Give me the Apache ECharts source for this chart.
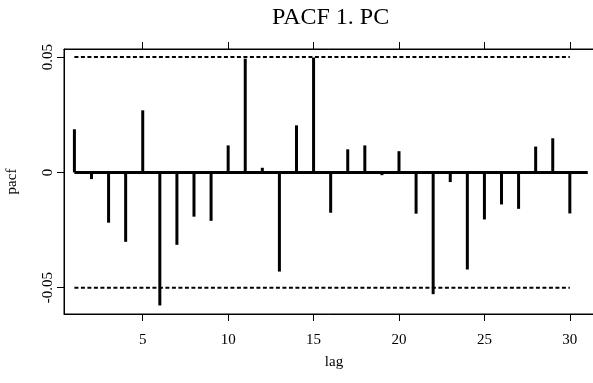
<!DOCTYPE html>
<html><head><meta charset="utf-8">
<script src="https://cdn.jsdelivr.net/npm/echarts@6/dist/echarts.min.js"></script>
<style>html,body{margin:0;padding:0;background:#fff}#c{width:593px;height:383px}</style>
</head><body><div id="c"></div>
<script>
const lags = [1,2,3,4,5,6,7,8,9,10,11,12,13,14,15,16,17,18,19,20,21,22,23,24,25,26,27,28,29,30];
const pacfValues = [0.0187,-0.0029,-0.0218,-0.0301,0.0269,-0.0577,-0.0314,-0.0192,-0.0210,0.0117,
  0.0493,0.0020,-0.0430,0.0204,0.0498,-0.0175,0.0100,0.0117,-0.0012,0.0092,
  -0.0179,-0.0528,-0.0042,-0.0421,-0.0204,-0.0139,-0.0158,0.0112,0.0148,-0.0178];
const confLimit = 0.05;
const xTicks = [5,10,15,20,25,30];
const yTicks = [-0.05,0,0.05];
const yTickLabels = ['-0.05','0','0.05'];

const FONT = 'Liberation Serif';
const chart = echarts.init(document.getElementById('c'), null, {renderer:'canvas'});
const barData = lags.map((l,i)=>[l,pacfValues[i]]);
const XMIN = 0.391, XMAX = 32.0;
chart.setOption({
  backgroundColor:'#fff',
  animation:false,
  title:{text:'PACF 1. PC',left:267,top:1,textStyle:{fontFamily:FONT,fontWeight:'normal',fontSize:24,color:'#000'}},
  grid:{left:64,top:49,width:540,height:265,outerBoundsMode:'none',containLabel:false,show:true,borderColor:'#000',borderWidth:1,backgroundColor:'transparent'},
  xAxis:[{
    type:'value',min:XMIN,max:XMAX,position:'bottom',
    name:'lag',nameLocation:'middle',nameGap:41,
    nameTextStyle:{fontFamily:FONT,fontSize:15,color:'#000'},
    axisLine:{show:true,onZero:false,lineStyle:{color:'#000',width:1}},
    axisTick:{show:true,length:7,inside:false,customValues:xTicks,lineStyle:{color:'#000',width:1}},
    axisLabel:{show:true,customValues:xTicks,margin:19,fontFamily:FONT,fontSize:15,color:'#000'},
    splitLine:{show:false}
  },{
    type:'value',min:XMIN,max:XMAX,position:'top',
    axisLine:{show:true,onZero:false,lineStyle:{color:'#000',width:1}},
    axisTick:{show:true,length:7,inside:false,customValues:xTicks,lineStyle:{color:'#000',width:1}},
    axisLabel:{show:false},
    splitLine:{show:false}
  }],
  yAxis:{
    type:'value',min:-0.0614,max:0.0535,
    name:'pacf',nameLocation:'middle',nameGap:44,
    nameTextStyle:{fontFamily:FONT,fontSize:15,color:'#000'},
    axisLine:{show:true,onZero:false,lineStyle:{color:'#000',width:1}},
    axisTick:{show:true,length:7,inside:false,customValues:yTicks,lineStyle:{color:'#000',width:1}},
    axisLabel:{show:true,customValues:yTicks,rotate:90,margin:8,fontFamily:FONT,fontSize:15,color:'#000',
      formatter:v=>{const i=yTicks.findIndex(t=>Math.abs(t-v)<1e-9);return i>=0?yTickLabels[i]:'';}},
    splitLine:{show:false}
  },
  series:[
    {type:'line',data:[[lags[0],0],[31.05,0]],symbol:'none',lineStyle:{color:'#000',width:3},silent:true,z:1},
    {type:'line',data:[[lags[0],confLimit],[lags[lags.length-1],confLimit]],symbol:'none',lineStyle:{color:'#000',width:2,type:[4,2.5]},silent:true},
    {type:'line',data:[[lags[0],-confLimit],[lags[lags.length-1],-confLimit]],symbol:'none',lineStyle:{color:'#000',width:2,type:[4,2.5]},silent:true},
    {type:'bar',data:barData,barWidth:3,itemStyle:{color:'#000'},z:2}
  ]
});
</script></body></html>
